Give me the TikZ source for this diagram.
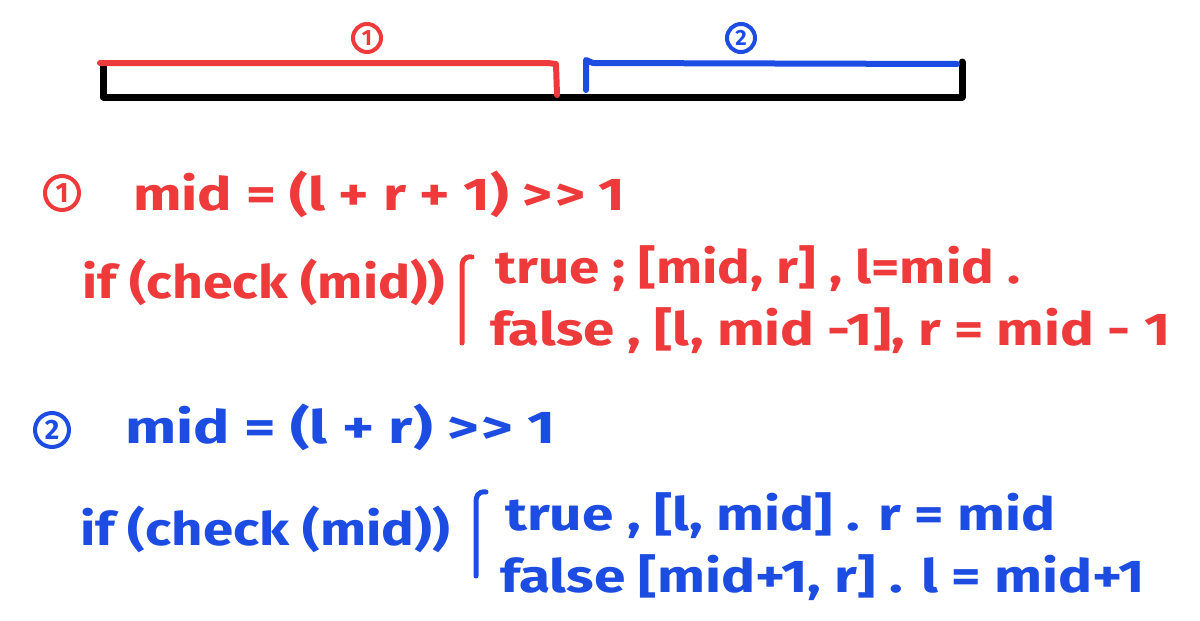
\documentclass[tikz,border=0pt]{standalone}
\usepackage{fontspec}
\setmainfont[Ligatures=NoCommon]{Fira Sans}
\usepackage{graphicx}
\definecolor{penred}{RGB}{238,58,58}
\definecolor{penblue}{RGB}{28,76,226}
\newcommand{\fitw}[2]{\resizebox{#1pt}{\height}{#2}}
\newcommand{\shr}{{>}\kern2pt{>}}
\tikzset{
  hand/.style={inner sep=0pt, anchor=base west, font=\fontsize{46}{50}\selectfont\bfseries},
  redtxt/.style={hand, text=penred},
  bluetxt/.style={hand, text=penblue},
  stroke/.style={line width=6pt, line cap=round, line join=round},
  num/.style={circle, draw, line width=4pt, inner sep=0pt, minimum size=#1pt},
  smallnum/.style={font=\fontsize{22}{22}\selectfont\bfseries},
  bignum/.style={font=\fontsize{28}{28}\selectfont\bfseries},
}
\begin{document}
\begin{tikzpicture}[x=1pt,y=-1pt]
\useasboundingbox[fill=white] (0,0) rectangle (1200,621);
% segment bar
\coordinate (bl) at (103,66);
\coordinate (bll) at (103,97);
\coordinate (brr) at (962,97);
\coordinate (br) at (962,62);
\draw[stroke, black, line width=7pt] (bl) -- (bll) -- (brr) -- (br);
\draw[stroke, penred] (100,63) -- (548,63) -- (556,64) -- (557,95);
\draw[stroke, penblue] (586,90) -- (586,60) -- (593,63) -- (957,64);
\node[num=28, smallnum, draw=penred, text=penred] (c1top) at (367,38) {1};
\node[num=28, smallnum, draw=penblue, text=penblue] (c2top) at (741,38) {2};
% case 1
\node[num=34, bignum, draw=penred, text=penred] (c1) at (62,193) {1};
\node[redtxt] (m1) at (133,210) {\fitw{492}{mid = (l + r + 1) \shr{} 1}};
\node[redtxt] (if1) at (82,298) {\fitw{363}{if (check (mid))}};
\draw[stroke, penred, line width=5pt] (472,257) .. controls (463,256) and (462,262) .. (462,268) -- (462,343);
\node[redtxt] (t1) at (495,283) {\fitw{525}{true ; [mid, r] , l=mid .}};
\node[redtxt] (f1) at (490,345) {\fitw{680}{false , [l, mid -1], r = mid - 1}};
% case 2
\node[num=34, bignum, draw=penblue, text=penblue] (c2) at (52,430) {2};
\node[bluetxt] (m2) at (125,443) {\fitw{430}{mid = (l + r) \shr{} 1}};
\node[bluetxt] (if2) at (80,545) {\fitw{370}{if (check (mid))}};
\draw[stroke, penblue, line width=5pt] (486,492) .. controls (477,491) and (476,497) .. (476,503) -- (476,576);
\node[bluetxt] (t2) at (505,530) {\fitw{550}{true , [l, mid] . r = mid}};
\node[bluetxt] (f2) at (500,592) {\fitw{645}{false [mid+1, r] . l = mid+1}};
\end{tikzpicture}
\end{document}
